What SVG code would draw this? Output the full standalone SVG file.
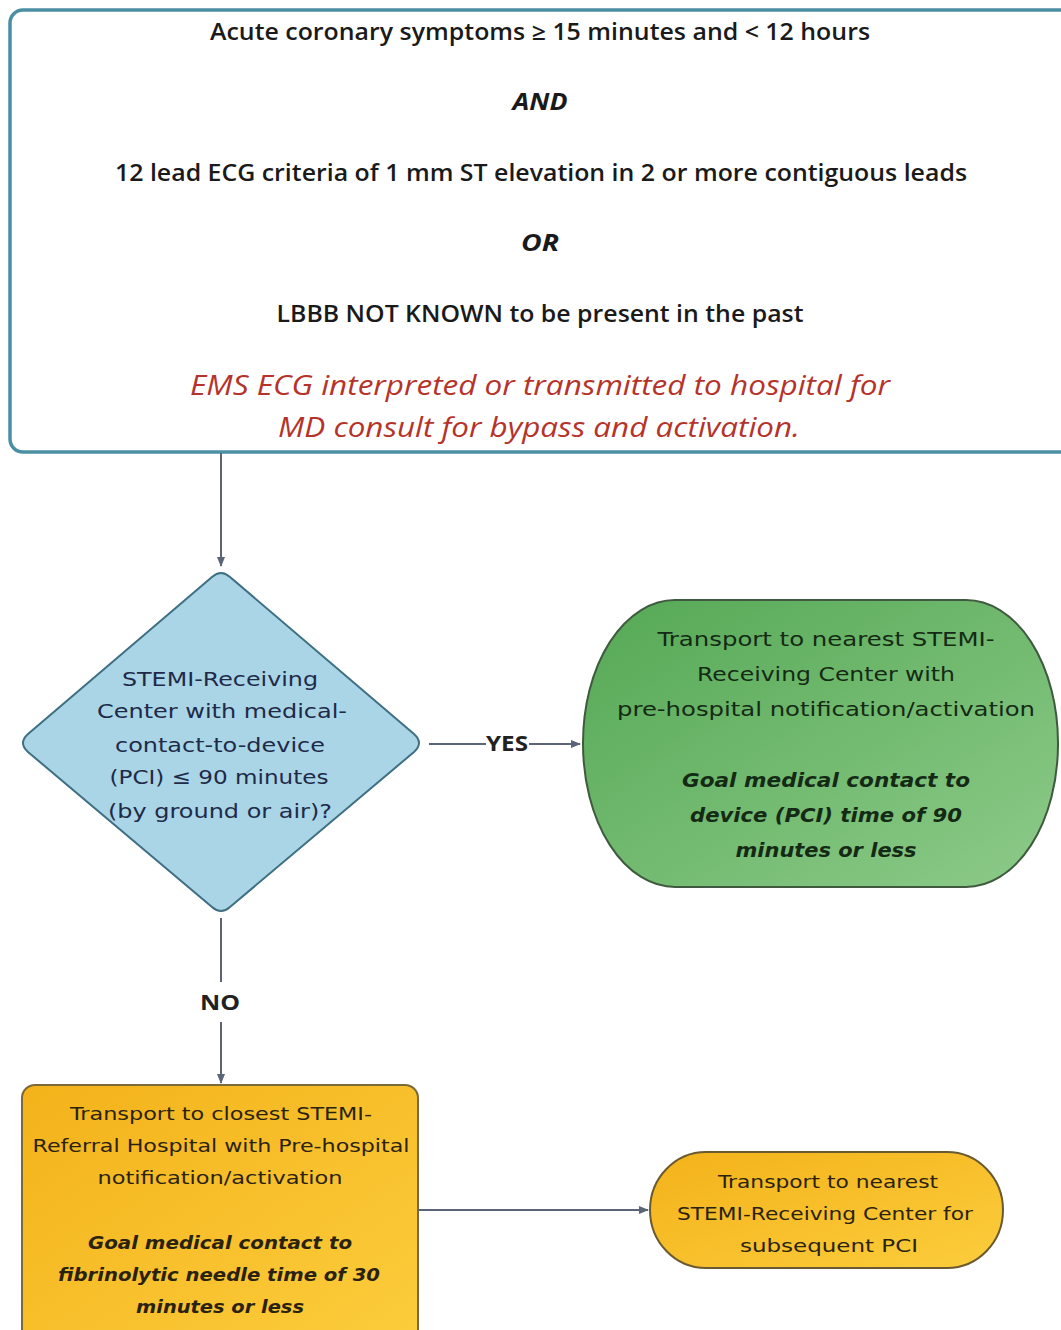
<svg xmlns="http://www.w3.org/2000/svg" width="1061" height="1330" viewBox="0 0 1061 1330">
<defs>
<marker id="ah" markerWidth="10" markerHeight="10" refX="9" refY="5" orient="auto" markerUnits="userSpaceOnUse">
<path d="M0,1 L10,5 L0,9 Z" fill="#5a6678"/>
</marker>
<linearGradient id="gGreen" x1="0" y1="0" x2="1" y2="1">
<stop offset="0" stop-color="#55a855"/>
<stop offset="1" stop-color="#8dcb89"/>
</linearGradient>
<linearGradient id="gOrange" x1="0" y1="0" x2="1" y2="1">
<stop offset="0" stop-color="#f3b21a"/>
<stop offset="1" stop-color="#fccd3c"/>
</linearGradient>
</defs>
<style>
text{font-family:"Open Sans","Liberation Sans",sans-serif;text-anchor:middle;fill:#1a1a1a}
.top{font-size:23px;font-weight:600}
.red{font-size:28px;font-style:italic;fill:#b5332a}
.dia{font-family:"DejaVu Sans","Liberation Sans",sans-serif;font-size:20px;fill:#1f2a48}
.grn{font-family:"DejaVu Sans","Liberation Sans",sans-serif;font-size:20px;fill:#142a14}
.it{font-style:italic;font-weight:700}
.org{font-family:"DejaVu Sans","Liberation Sans",sans-serif;font-size:17.5px;fill:#2a2210}
.lbl{font-size:21px;font-weight:700;fill:#222}
.conn{stroke:#5a6678;stroke-width:2;fill:none}
</style>
<g id="node-criteria">
<rect x="10" y="10" width="1070" height="442" rx="13" fill="#ffffff" stroke="#4b8fa4" stroke-width="3.5"/>
<text class="top" x="540" y="40" textLength="660" lengthAdjust="spacingAndGlyphs">Acute coronary symptoms ≥ 15 minutes and &lt; 12 hours</text>
<text class="top it" x="540" y="110" textLength="55" lengthAdjust="spacingAndGlyphs">AND</text>
<text class="top" x="541" y="181" textLength="852" lengthAdjust="spacingAndGlyphs">12 lead ECG criteria of 1 mm ST elevation in 2 or more contiguous leads</text>
<text class="top it" x="540" y="251" textLength="38" lengthAdjust="spacingAndGlyphs">OR</text>
<text class="top" x="540" y="322" textLength="527" lengthAdjust="spacingAndGlyphs">LBBB NOT KNOWN to be present in the past</text>
<text class="red" x="540" y="395" textLength="700" lengthAdjust="spacingAndGlyphs">EMS ECG interpreted or transmitted to hospital for</text>
<text class="red" x="539" y="437" textLength="522" lengthAdjust="spacingAndGlyphs">MD consult for bypass and activation.</text>
</g>
<g id="node-decision">
<path d="M212,577 Q221,569 230,577 L414,734 Q424,743 414,752 L230,907 Q221,915 212,907 L28,752 Q18,743 28,734 Z" fill="#a9d5e6" stroke="#3f6f83" stroke-width="2"/>
<text class="dia" x="220" y="686" textLength="196" lengthAdjust="spacingAndGlyphs">STEMI-Receiving</text>
<text class="dia" x="222" y="718" textLength="250" lengthAdjust="spacingAndGlyphs">Center with medical-</text>
<text class="dia" x="220" y="752" textLength="210" lengthAdjust="spacingAndGlyphs">contact-to-device</text>
<text class="dia" x="219" y="784" textLength="219" lengthAdjust="spacingAndGlyphs">(PCI) ≤ 90 minutes</text>
<text class="dia" x="220" y="818" textLength="224" lengthAdjust="spacingAndGlyphs">(by ground or air)?</text>
</g>
<g id="node-receiving">
<rect x="583" y="600" width="475" height="287" rx="92" ry="143" fill="url(#gGreen)" stroke="#3f5a3f" stroke-width="2"/>
<text class="grn" x="826" y="646" textLength="337" lengthAdjust="spacingAndGlyphs">Transport to nearest STEMI-</text>
<text class="grn" x="826" y="681" textLength="258" lengthAdjust="spacingAndGlyphs">Receiving Center with</text>
<text class="grn" x="826" y="716" textLength="418" lengthAdjust="spacingAndGlyphs">pre-hospital notification/activation</text>
<text class="grn it" x="826" y="787" textLength="288" lengthAdjust="spacingAndGlyphs">Goal medical contact to</text>
<text class="grn it" x="826" y="822" textLength="272" lengthAdjust="spacingAndGlyphs">device (PCI) time of 90</text>
<text class="grn it" x="826" y="857" textLength="181" lengthAdjust="spacingAndGlyphs">minutes or less</text>
</g>
<g id="node-referral">
<rect x="22" y="1085" width="396" height="260" rx="13" fill="url(#gOrange)" stroke="#7a6a3a" stroke-width="2"/>
<text class="org" x="221" y="1120" textLength="302" lengthAdjust="spacingAndGlyphs">Transport to closest STEMI-</text>
<text class="org" x="221" y="1152" textLength="377" lengthAdjust="spacingAndGlyphs">Referral Hospital with Pre-hospital</text>
<text class="org" x="220" y="1184" textLength="245" lengthAdjust="spacingAndGlyphs">notification/activation</text>
<text class="org it" x="220" y="1249" textLength="264" lengthAdjust="spacingAndGlyphs">Goal medical contact to</text>
<text class="org it" x="219" y="1281" textLength="322" lengthAdjust="spacingAndGlyphs">fibrinolytic needle time of 30</text>
<text class="org it" x="220" y="1313" textLength="168" lengthAdjust="spacingAndGlyphs">minutes or less</text>
</g>
<g id="node-subsequent">
<rect x="650" y="1152" width="353" height="116" rx="56" ry="58" fill="url(#gOrange)" stroke="#6a5a30" stroke-width="2"/>
<text class="org" x="828" y="1188" textLength="220" lengthAdjust="spacingAndGlyphs">Transport to nearest</text>
<text class="org" x="825" y="1220" textLength="296" lengthAdjust="spacingAndGlyphs">STEMI-Receiving Center for</text>
<text class="org" x="829" y="1252" textLength="178" lengthAdjust="spacingAndGlyphs">subsequent PCI</text>
</g>
<g id="connectors">
<line class="conn" x1="221" y1="453" x2="221" y2="566" marker-end="url(#ah)"/>
<line class="conn" x1="429" y1="744" x2="486" y2="744"/>
<line class="conn" x1="529" y1="744" x2="580" y2="744" marker-end="url(#ah)"/>
<text class="lbl" x="507" y="751" textLength="42" lengthAdjust="spacingAndGlyphs">YES</text>
<line class="conn" x1="221" y1="918" x2="221" y2="982"/>
<line class="conn" x1="221" y1="1022" x2="221" y2="1083" marker-end="url(#ah)"/>
<text class="lbl" x="220" y="1010" textLength="40" lengthAdjust="spacingAndGlyphs">NO</text>
<line class="conn" x1="418" y1="1210" x2="648" y2="1210" marker-end="url(#ah)"/>
</g>
</svg>
